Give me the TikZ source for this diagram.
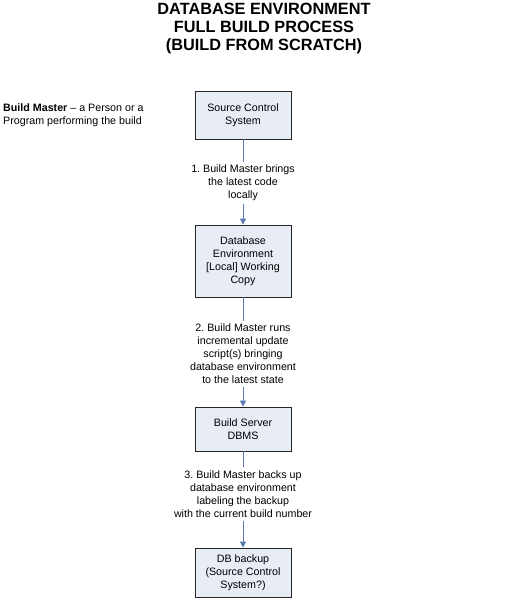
\documentclass[tikz,border=0pt]{standalone}
\usepackage{fontspec}
\setmainfont{Liberation Sans}
\usetikzlibrary{arrows.meta}
\definecolor{boxfill}{HTML}{E8ECF5}
\definecolor{linkc}{HTML}{5A7AB0}
\frenchspacing
\begin{document}
\begin{tikzpicture}[x=1pt,y=-1pt,
  box/.style={draw=black!85,fill=boxfill,line width=0.8pt,minimum width=96pt,align=center,inner sep=0pt,font=\fontsize{10.7}{13}\selectfont},
  lbl/.style={align=center,inner sep=3pt,font=\fontsize{10.7}{13}\selectfont},
  link/.style={draw=linkc,line width=0.8pt},
  arr/.style={link,-{Triangle[width=6pt,length=6pt]}}]
\useasboundingbox (0,0) rectangle (524,610);
\node[align=center,font=\fontsize{16.3}{18}\selectfont\bfseries] (title) at (264,29) {DATABASE ENVIRONMENT\\FULL BUILD PROCESS\\(BUILD FROM SCRATCH)};
\node[anchor=west,align=left,inner sep=0pt,font=\fontsize{10.7}{13}\selectfont] (note) at (3,115) {\textbf{Build Master} -- a Person or a\\Program performing the build};
\node[box,minimum height=48pt] (b1) at (243,115) {Source Control\\System};
\node[lbl] (l1) at (243,183) {1. Build Master brings\\the latest code\\locally};
\node[box,minimum height=72pt] (b2) at (243,261) {Database\\Environment\\{[Local]} Working\\Copy};
\node[lbl] (l2) at (243,354) {2. Build Master runs\\incremental update\\script(s) bringing\\database environment\\to the latest state};
\node[box,minimum height=44pt] (b3) at (243,429) {Build Server\\DBMS};
\node[lbl] (l3) at (243,494) {3. Build Master backs up\\database environment\\labeling the backup\\with the current build number};
\node[box,minimum height=49pt] (b4) at (243,572.5) {DB backup\\(Source Control\\System?)};
\draw[link] (b1.south) -- (l1.north);
\draw[arr] (l1.south) -- (b2.north);
\draw[link] (b2.south) -- (l2.north);
\draw[arr] (l2.south) -- (b3.north);
\draw[link] (b3.south) -- (l3.north);
\draw[arr] (l3.south) -- (b4.north);
\end{tikzpicture}
\end{document}
